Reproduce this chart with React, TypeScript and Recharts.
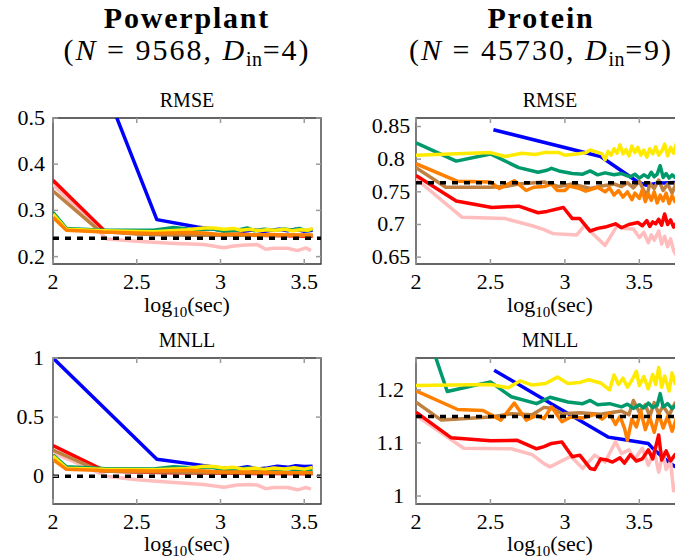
import React from "react";
import { LineChart, Line, XAxis, YAxis, ReferenceLine, ReferenceArea } from "recharts";

type Pt = [number, number];

const FONT = "'Liberation Serif', serif";

// colours of the methods
const C_BLUE = "#0000ff";
const C_RED = "#ff0000";
const C_PINK = "#ffbdbd";
const C_BROWN = "#bf8040";
const C_GREEN = "#00996b";
const C_YELLOW = "#ffea00";
const C_ORANGE = "#ff8000";

// tick values
const xTicks = [2, 2.5, 3, 3.5];
const ppRmseTicks = [0.2, 0.3, 0.4, 0.5];
const prRmseTicks = [0.65, 0.7, 0.75, 0.8, 0.85];
const ppMnllTicks = [0, 0.5, 1];
const prMnllTicks = [1, 1.1, 1.2];

// dashed reference levels
const ppRmseRef = 0.24;
const prRmseRef = 0.764;
const ppMnllRef = 0;
const prMnllRef = 1.15;

// ---- Powerplant RMSE ----
const ppRmseBlue: Pt[] = [[2.3, 0.575], [2.62, 0.28], [2.86, 0.264], [2.95, 0.26], [3.02, 0.256], [3.08, 0.257], [3.14, 0.255], [3.2, 0.258], [3.25, 0.254], [3.3, 0.257], [3.35, 0.259], [3.4, 0.256], [3.45, 0.259], [3.5, 0.255], [3.55, 0.257]];
const ppRmseRed: Pt[] = [[2, 0.365], [2.31, 0.255], [2.5, 0.25], [2.7, 0.249], [2.9, 0.248], [3.0, 0.247], [3.2, 0.246], [3.4, 0.245], [3.55, 0.244]];
const ppRmsePink: Pt[] = [[2, 0.356], [2.32, 0.238], [2.5, 0.233], [2.7, 0.229], [2.9, 0.226], [3.02, 0.219], [3.08, 0.223], [3.15, 0.225], [3.22, 0.226], [3.27, 0.216], [3.32, 0.218], [3.4, 0.218], [3.46, 0.213], [3.51, 0.219], [3.54, 0.213]];
const ppRmseBrown: Pt[] = [[2, 0.342], [2.28, 0.255], [2.5, 0.249], [2.7, 0.247], [2.85, 0.246], [3.0, 0.247], [3.2, 0.246], [3.4, 0.247], [3.55, 0.246]];
const ppRmseGreen: Pt[] = [[2, 0.296], [2.08, 0.261], [2.3, 0.257], [2.6, 0.257], [2.72, 0.263], [2.85, 0.258], [2.95, 0.26], [3.02, 0.255], [3.1, 0.257], [3.16, 0.262], [3.2, 0.256], [3.26, 0.259], [3.32, 0.257], [3.38, 0.26], [3.43, 0.257], [3.47, 0.261], [3.51, 0.256], [3.55, 0.259]];
const ppRmseYellow: Pt[] = [[2, 0.292], [2.08, 0.259], [2.3, 0.256], [2.6, 0.254], [2.8, 0.258], [2.9, 0.262], [2.96, 0.262], [3.02, 0.259], [3.08, 0.261], [3.12, 0.257], [3.18, 0.259], [3.23, 0.256], [3.28, 0.258], [3.33, 0.257], [3.38, 0.259], [3.43, 0.256], [3.48, 0.258], [3.52, 0.257], [3.55, 0.261]];
const ppRmseOrange: Pt[] = [[2, 0.285], [2.08, 0.257], [2.3, 0.253], [2.6, 0.25], [2.8, 0.252], [2.9, 0.251], [3.0, 0.248], [3.1, 0.249], [3.2, 0.247], [3.3, 0.248], [3.4, 0.247], [3.5, 0.247], [3.55, 0.246]];

// ---- Powerplant MNLL ----
const ppMnllBlue: Pt[] = [[2, 1.0], [2.62, 0.144], [2.86, 0.098], [3.0, 0.07], [3.1, 0.065], [3.16, 0.08], [3.22, 0.062], [3.28, 0.07], [3.34, 0.085], [3.4, 0.075], [3.45, 0.088], [3.5, 0.082], [3.55, 0.085]];
const ppMnllRed: Pt[] = [[2, 0.26], [2.31, 0.045], [2.5, 0.035], [2.7, 0.03], [2.9, 0.028], [3.1, 0.025], [3.3, 0.022], [3.55, 0.02]];
const ppMnllPink: Pt[] = [[2, 0.2], [2.32, 0.0], [2.5, -0.03], [2.7, -0.05], [2.9, -0.07], [3.02, -0.093], [3.1, -0.075], [3.18, -0.07], [3.22, -0.075], [3.27, -0.105], [3.32, -0.095], [3.4, -0.095], [3.46, -0.115], [3.51, -0.095], [3.54, -0.11]];
const ppMnllBrown: Pt[] = [[2, 0.22], [2.28, 0.045], [2.5, 0.038], [2.7, 0.035], [2.85, 0.03], [3.0, 0.03], [3.2, 0.028], [3.4, 0.03], [3.55, 0.027]];
const ppMnllGreen: Pt[] = [[2, 0.18], [2.08, 0.08], [2.3, 0.065], [2.6, 0.062], [2.72, 0.08], [2.85, 0.07], [2.95, 0.075], [3.02, 0.055], [3.1, 0.06], [3.16, 0.07], [3.22, 0.05], [3.28, 0.06], [3.34, 0.055], [3.4, 0.065], [3.45, 0.055], [3.5, 0.06], [3.55, 0.055]];
const ppMnllYellow: Pt[] = [[2, 0.17], [2.08, 0.068], [2.3, 0.058], [2.6, 0.055], [2.8, 0.065], [2.9, 0.085], [2.96, 0.082], [3.02, 0.07], [3.08, 0.075], [3.14, 0.06], [3.2, 0.07], [3.26, 0.058], [3.32, 0.07], [3.38, 0.062], [3.44, 0.072], [3.5, 0.06], [3.55, 0.075]];
const ppMnllOrange: Pt[] = [[2, 0.14], [2.08, 0.058], [2.3, 0.048], [2.6, 0.045], [2.8, 0.05], [2.9, 0.045], [3.0, 0.035], [3.2, 0.035], [3.4, 0.03], [3.55, 0.03]];

// ---- Protein RMSE ----
const prRmseBlue: Pt[] = [[2.52, 0.845], [3.24, 0.804], [3.49, 0.765], [3.55, 0.76], [3.62, 0.763], [3.8, 0.765]];
const prRmseYellow: Pt[] = [[2, 0.806], [2.5, 0.81], [2.6, 0.804], [2.71, 0.809], [2.8, 0.807], [2.86, 0.81], [2.96, 0.81], [3.0, 0.806], [3.08, 0.808], [3.14, 0.81], [3.17, 0.814], [3.25, 0.808], [3.27, 0.799], [3.29, 0.812], [3.31, 0.806], [3.33, 0.816], [3.35, 0.809], [3.37, 0.822], [3.39, 0.808], [3.41, 0.815], [3.43, 0.805], [3.45, 0.82], [3.47, 0.81], [3.49, 0.818], [3.51, 0.806], [3.53, 0.814], [3.55, 0.803], [3.57, 0.816], [3.59, 0.808], [3.61, 0.819], [3.63, 0.806], [3.65, 0.812], [3.67, 0.823], [3.69, 0.805], [3.71, 0.818], [3.73, 0.809], [3.75, 0.825], [3.77, 0.81], [3.8, 0.815]];
const prRmseGreen: Pt[] = [[2, 0.825], [2.27, 0.797], [2.5, 0.808], [2.69, 0.787], [2.82, 0.78], [2.88, 0.783], [2.91, 0.786], [2.96, 0.782], [3.05, 0.778], [3.12, 0.777], [3.17, 0.782], [3.22, 0.776], [3.27, 0.779], [3.33, 0.776], [3.38, 0.778], [3.44, 0.773], [3.47, 0.777], [3.5, 0.771], [3.53, 0.776], [3.56, 0.772], [3.58, 0.78], [3.6, 0.773], [3.62, 0.777], [3.64, 0.79], [3.66, 0.772], [3.68, 0.778], [3.7, 0.771], [3.72, 0.776], [3.74, 0.772], [3.77, 0.777], [3.8, 0.774]];
const prRmseOrange: Pt[] = [[2, 0.793], [2.28, 0.766], [2.5, 0.765], [2.56, 0.755], [2.66, 0.767], [2.74, 0.752], [2.79, 0.757], [2.86, 0.758], [2.91, 0.762], [2.95, 0.752], [3.0, 0.752], [3.03, 0.759], [3.1, 0.755], [3.14, 0.751], [3.22, 0.757], [3.27, 0.75], [3.3, 0.756], [3.33, 0.745], [3.36, 0.752], [3.39, 0.742], [3.42, 0.75], [3.45, 0.738], [3.47, 0.748], [3.5, 0.74], [3.52, 0.753], [3.54, 0.735], [3.56, 0.747], [3.58, 0.737], [3.6, 0.75], [3.62, 0.733], [3.64, 0.745], [3.66, 0.736], [3.68, 0.748], [3.7, 0.732], [3.72, 0.744], [3.74, 0.735], [3.77, 0.742], [3.8, 0.737]];
const prRmseBrown: Pt[] = [[2, 0.787], [2.2, 0.757], [2.5, 0.757], [2.6, 0.758], [2.69, 0.762], [2.86, 0.765], [2.96, 0.758], [3.05, 0.762], [3.17, 0.755], [3.25, 0.759], [3.33, 0.762], [3.38, 0.758], [3.42, 0.764], [3.46, 0.756], [3.5, 0.766], [3.53, 0.752], [3.55, 0.742], [3.57, 0.763], [3.6, 0.755], [3.63, 0.768], [3.66, 0.752], [3.69, 0.762], [3.72, 0.748], [3.75, 0.765], [3.8, 0.756]];
const prRmseRed: Pt[] = [[2, 0.775], [2.27, 0.736], [2.51, 0.726], [2.69, 0.728], [2.82, 0.718], [2.88, 0.72], [2.99, 0.726], [3.05, 0.709], [3.1, 0.709], [3.17, 0.69], [3.22, 0.694], [3.27, 0.696], [3.34, 0.701], [3.38, 0.695], [3.43, 0.7], [3.49, 0.703], [3.52, 0.698], [3.55, 0.706], [3.57, 0.697], [3.59, 0.704], [3.61, 0.701], [3.63, 0.708], [3.65, 0.699], [3.67, 0.716], [3.69, 0.7], [3.71, 0.707], [3.73, 0.696], [3.76, 0.705], [3.8, 0.7]];
const prRmsePink: Pt[] = [[2, 0.77], [2.31, 0.711], [2.6, 0.709], [2.78, 0.698], [2.86, 0.692], [2.92, 0.686], [3.08, 0.684], [3.13, 0.698], [3.27, 0.668], [3.35, 0.698], [3.4, 0.694], [3.46, 0.693], [3.5, 0.68], [3.53, 0.688], [3.56, 0.672], [3.58, 0.684], [3.6, 0.676], [3.63, 0.69], [3.65, 0.67], [3.67, 0.682], [3.69, 0.666], [3.71, 0.678], [3.73, 0.66], [3.75, 0.652], [3.8, 0.66]];

// ---- Protein MNLL ----
const prMnllGreen: Pt[] = [[2, 1.37], [2.21, 1.197], [2.5, 1.215], [2.64, 1.187], [2.81, 1.174], [2.9, 1.186], [3.02, 1.177], [3.12, 1.174], [3.17, 1.18], [3.22, 1.172], [3.3, 1.174], [3.38, 1.168], [3.42, 1.173], [3.46, 1.165], [3.5, 1.172], [3.53, 1.166], [3.56, 1.175], [3.59, 1.167], [3.62, 1.171], [3.64, 1.193], [3.66, 1.168], [3.69, 1.174], [3.72, 1.165], [3.75, 1.172], [3.8, 1.168]];
const prMnllYellow: Pt[] = [[2, 1.208], [2.5, 1.21], [2.62, 1.204], [2.7, 1.217], [2.78, 1.209], [2.87, 1.212], [2.95, 1.224], [3.02, 1.212], [3.1, 1.214], [3.16, 1.219], [3.24, 1.213], [3.3, 1.2], [3.33, 1.228], [3.36, 1.21], [3.39, 1.222], [3.42, 1.205], [3.45, 1.218], [3.48, 1.235], [3.5, 1.208], [3.53, 1.225], [3.56, 1.202], [3.59, 1.229], [3.61, 1.21], [3.63, 1.242], [3.65, 1.205], [3.67, 1.226], [3.7, 1.198], [3.72, 1.232], [3.74, 1.212], [3.77, 1.245], [3.8, 1.215]];
const prMnllBlue: Pt[] = [[2.525, 1.237], [2.86, 1.182], [3.29, 1.111], [3.36, 1.108], [3.56, 1.099], [3.6, 1.087], [3.71, 1.061], [3.8, 1.045]];
const prMnllOrange: Pt[] = [[2, 1.198], [2.28, 1.163], [2.45, 1.161], [2.57, 1.143], [2.66, 1.175], [2.74, 1.143], [2.81, 1.152], [2.86, 1.146], [2.91, 1.168], [2.98, 1.14], [3.04, 1.149], [3.12, 1.147], [3.2, 1.154], [3.25, 1.145], [3.3, 1.156], [3.34, 1.135], [3.37, 1.15], [3.4, 1.128], [3.42, 1.105], [3.45, 1.145], [3.48, 1.13], [3.51, 1.16], [3.54, 1.125], [3.57, 1.148], [3.6, 1.12], [3.63, 1.155], [3.66, 1.128], [3.69, 1.15], [3.72, 1.122], [3.75, 1.148], [3.8, 1.13]];
const prMnllBrown: Pt[] = [[2, 1.177], [2.17, 1.143], [2.5, 1.149], [2.64, 1.155], [2.78, 1.153], [2.86, 1.167], [2.92, 1.165], [2.98, 1.155], [3.1, 1.157], [3.24, 1.154], [3.38, 1.16], [3.43, 1.153], [3.46, 1.18], [3.5, 1.158], [3.54, 1.172], [3.57, 1.15], [3.6, 1.176], [3.63, 1.155], [3.66, 1.17], [3.7, 1.152], [3.74, 1.175], [3.8, 1.16]];
const prMnllRed: Pt[] = [[2, 1.158], [2.235, 1.11], [2.5, 1.104], [2.68, 1.105], [2.81, 1.089], [2.86, 1.093], [2.91, 1.099], [2.98, 1.102], [3.05, 1.074], [3.1, 1.077], [3.17, 1.052], [3.2, 1.05], [3.24, 1.07], [3.28, 1.068], [3.32, 1.064], [3.37, 1.072], [3.4, 1.062], [3.44, 1.078], [3.48, 1.066], [3.52, 1.07], [3.56, 1.087], [3.59, 1.07], [3.63, 1.115], [3.65, 1.068], [3.68, 1.085], [3.71, 1.066], [3.74, 1.078], [3.8, 1.07]];
const prMnllPink: Pt[] = [[2, 1.152], [2.32, 1.09], [2.64, 1.089], [2.78, 1.078], [2.86, 1.061], [2.9, 1.055], [3.04, 1.075], [3.12, 1.052], [3.2, 1.077], [3.27, 1.064], [3.34, 1.102], [3.38, 1.08], [3.43, 1.087], [3.47, 1.07], [3.52, 1.09], [3.56, 1.058], [3.6, 1.085], [3.63, 1.045], [3.66, 1.082], [3.68, 1.05], [3.71, 1.065], [3.73, 1.01], [3.76, 1.03], [3.8, 1.02]];

type Series = { pts: Pt[]; color: string };

type PanelProps = {
  top: number;
  plotLeft: number;
  plotW: number;
  plotH: number;
  xDomain: [number, number];
  yDomain: [number, number];
  yTicks: number[];
  yLabelGap: number;
  yLabelAnchor: "end" | "middle";
  refY: number;
  series: Series[];
};

const toRows = (pts: Pt[]) => pts.map(([x, y]) => ({ x, y }));

const AXIS_W = 50;
const AXIS_H = 36;

function Panel(props: PanelProps) {
  const { top, plotLeft, plotW, plotH, xDomain, yDomain, yTicks, yLabelGap, yLabelAnchor, refY, series } = props;
  const topPad = 12;
  const width = plotLeft + plotW + 30;
  const height = topPad + plotH + AXIS_H + 4;

  const xTick = (p: any) => (
    <g>
      <line x1={p.x} y1={p.y} x2={p.x} y2={p.y - 5} stroke="#9a9a9a" strokeWidth={1.5} />
      <line x1={p.x} y1={p.y - plotH} x2={p.x} y2={p.y - plotH + 5} stroke="#9a9a9a" strokeWidth={1.5} />
      <text x={p.x} y={p.y + 24.5} textAnchor="middle" fontSize={22} fontFamily={FONT} fill="#000">
        {String(p.payload.value)}
      </text>
    </g>
  );

  const yTick = (p: any) => (
    <g>
      <line x1={p.x} y1={p.y} x2={p.x + 5} y2={p.y} stroke="#9a9a9a" strokeWidth={1.5} />
      <line x1={p.x + plotW} y1={p.y} x2={p.x + plotW - 5} y2={p.y} stroke="#9a9a9a" strokeWidth={1.5} />
      <text x={p.x - yLabelGap} y={p.y + 7} textAnchor={yLabelAnchor} fontSize={22} fontFamily={FONT} fill="#000">
        {String(p.payload.value)}
      </text>
    </g>
  );

  return (
    <div style={{ position: "absolute", left: 0, top: top - topPad }}>
      <LineChart
        width={width}
        height={height}
        margin={{
          top: topPad,
          right: width - plotLeft - plotW,
          bottom: height - topPad - plotH - AXIS_H,
          left: plotLeft - AXIS_W,
        }}
      >
        <XAxis
          dataKey="x"
          type="number"
          domain={xDomain}
          allowDataOverflow
          ticks={xTicks}
          interval={0}
          height={AXIS_H}
          tickSize={0}
          tickMargin={0}
          tickLine={false}
          axisLine={false}
          tick={xTick}
        />
        <YAxis
          type="number"
          domain={yDomain}
          allowDataOverflow
          ticks={yTicks}
          interval={0}
          width={AXIS_W}
          tickSize={0}
          tickMargin={0}
          tickLine={false}
          axisLine={false}
          tick={yTick}
        />
        <ReferenceArea
          x1={xDomain[0]}
          x2={xDomain[1]}
          y1={yDomain[0]}
          y2={yDomain[1]}
          fill="none"
          stroke="#333"
          strokeWidth={1.3}
        />
        {series.map((s, i) => (
          <Line
            key={i}
            data={toRows(s.pts)}
            dataKey="y"
            type="linear"
            stroke={s.color}
            strokeWidth={3.5}
            dot={false}
            isAnimationActive={false}
            strokeLinejoin="round"
          />
        ))}
        <ReferenceLine y={refY} stroke="#000" strokeWidth={3.5} strokeDasharray="6 6" />
      </LineChart>
    </div>
  );
}

const centered = (cx: number, top: number, size: number, extra: React.CSSProperties = {}): React.CSSProperties => ({
  position: "absolute",
  left: cx - 200,
  width: 400,
  top,
  textAlign: "center",
  fontSize: size,
  lineHeight: 1.15,
  whiteSpace: "nowrap",
  ...extra,
});

function LogLabel({ cx, top }: { cx: number; top: number }) {
  return (
    <div style={centered(cx, top, 22, { lineHeight: 1 })}>
      log<sub style={{ fontSize: 15, verticalAlign: -5, lineHeight: 1 }}>10</sub>(sec)
    </div>
  );
}

function DimLabel({ cx, n, d }: { cx: number; n: string; d: string }) {
  return (
    <div style={centered(cx, 33, 30, { letterSpacing: 2 })}>
      (<i>N</i> = {n}, <i>D</i>
      <sub style={{ fontSize: 20, verticalAlign: -6, letterSpacing: 0.5, lineHeight: 1 }}>in</sub>={d})
    </div>
  );
}

export default function App() {
  const leftX = 53;
  const rightX = 416;
  const plotW = 268;
  const plotH = 146;
  const lc = leftX + plotW / 2;
  const rc = rightX + plotW / 2;
  const leftTitle = 187;
  const rightTitle = 541;

  return (
    <div
      style={{
        position: "absolute",
        left: 0,
        top: 0,
        width: 675,
        height: 558,
        overflow: "hidden",
        background: "#fff",
        fontFamily: FONT,
        color: "#000",
      }}
    >
      <div style={centered(leftTitle, 1, 30, { fontWeight: "bold", letterSpacing: 1.8 })}>Powerplant</div>
      <DimLabel cx={leftTitle} n="9568" d="4" />
      <div style={centered(rightTitle, 1, 30, { fontWeight: "bold", letterSpacing: 1.8 })}>Protein</div>
      <DimLabel cx={rightTitle} n="45730" d="9" />

      <div style={centered(lc, 89, 20)}>RMSE</div>
      <div style={centered(rc, 89, 20)}>RMSE</div>
      <div style={centered(lc, 329, 20)}>MNLL</div>
      <div style={centered(rc, 329, 20)}>MNLL</div>

      <Panel
        top={117.5}
        plotLeft={leftX}
        plotW={plotW}
        plotH={plotH}
        xDomain={[2, 3.6]}
        yDomain={[0.184, 0.5]}
        yTicks={ppRmseTicks}
        yLabelGap={8}
        yLabelAnchor="end"
        refY={ppRmseRef}
        series={[
          { pts: ppRmseBlue, color: C_BLUE },
          { pts: ppRmsePink, color: C_PINK },
          { pts: ppRmseRed, color: C_RED },
          { pts: ppRmseBrown, color: C_BROWN },
          { pts: ppRmseGreen, color: C_GREEN },
          { pts: ppRmseYellow, color: C_YELLOW },
          { pts: ppRmseOrange, color: C_ORANGE },
        ]}
      />
      <Panel
        top={117.5}
        plotLeft={rightX}
        plotW={plotW}
        plotH={plotH}
        xDomain={[2, 3.8]}
        yDomain={[0.6395, 0.863]}
        yTicks={prRmseTicks}
        yLabelGap={25}
        yLabelAnchor="middle"
        refY={prRmseRef}
        series={[
          { pts: prRmseBlue, color: C_BLUE },
          { pts: prRmsePink, color: C_PINK },
          { pts: prRmseRed, color: C_RED },
          { pts: prRmseBrown, color: C_BROWN },
          { pts: prRmseOrange, color: C_ORANGE },
          { pts: prRmseGreen, color: C_GREEN },
          { pts: prRmseYellow, color: C_YELLOW },
        ]}
      />
      <Panel
        top={357.5}
        plotLeft={leftX}
        plotW={plotW}
        plotH={plotH}
        xDomain={[2, 3.6]}
        yDomain={[-0.235, 1]}
        yTicks={ppMnllTicks}
        yLabelGap={9}
        yLabelAnchor="end"
        refY={ppMnllRef}
        series={[
          { pts: ppMnllBlue, color: C_BLUE },
          { pts: ppMnllPink, color: C_PINK },
          { pts: ppMnllRed, color: C_RED },
          { pts: ppMnllBrown, color: C_BROWN },
          { pts: ppMnllGreen, color: C_GREEN },
          { pts: ppMnllYellow, color: C_YELLOW },
          { pts: ppMnllOrange, color: C_ORANGE },
        ]}
      />
      <Panel
        top={357.5}
        plotLeft={rightX}
        plotW={plotW}
        plotH={plotH}
        xDomain={[2, 3.8]}
        yDomain={[0.985, 1.26]}
        yTicks={prMnllTicks}
        yLabelGap={12}
        yLabelAnchor="end"
        refY={prMnllRef}
        series={[
          { pts: prMnllBlue, color: C_BLUE },
          { pts: prMnllPink, color: C_PINK },
          { pts: prMnllRed, color: C_RED },
          { pts: prMnllBrown, color: C_BROWN },
          { pts: prMnllOrange, color: C_ORANGE },
          { pts: prMnllGreen, color: C_GREEN },
          { pts: prMnllYellow, color: C_YELLOW },
        ]}
      />

      <LogLabel cx={lc} top={293.5} />
      <LogLabel cx={rc} top={293.5} />
      <LogLabel cx={lc} top={533} />
      <LogLabel cx={rc} top={533} />
    </div>
  );
}
